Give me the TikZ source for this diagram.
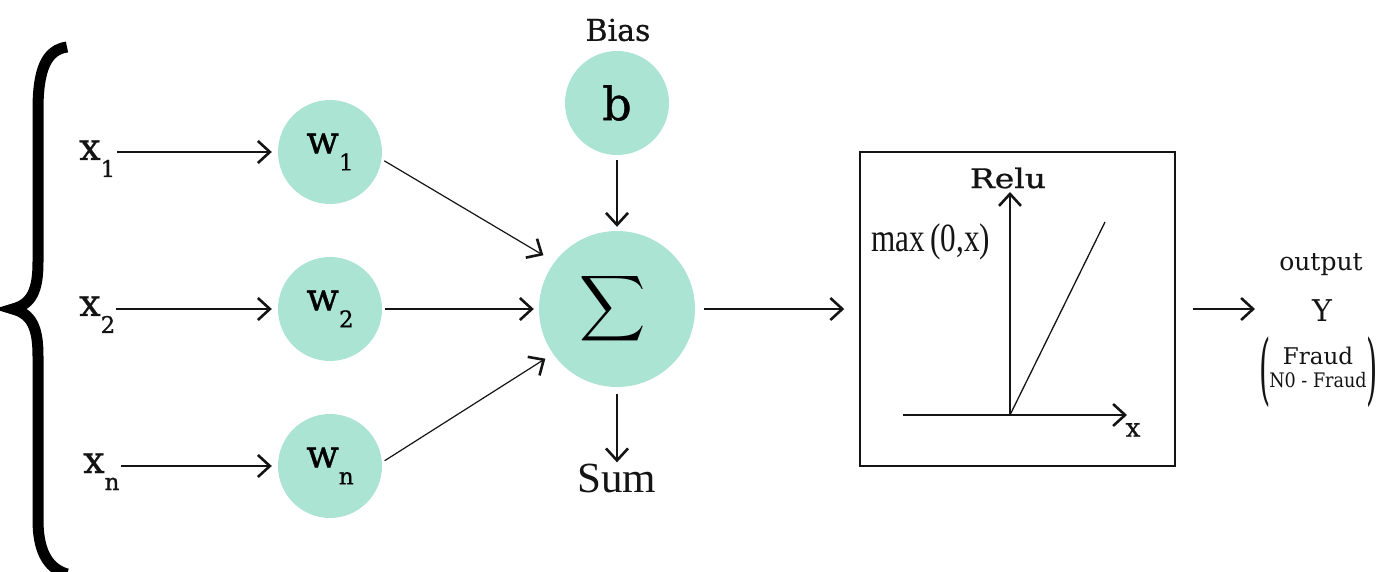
\documentclass[tikz,border=0pt]{standalone}
\usepackage{graphicx}
\usepackage{fontspec}
\setmainfont{DejaVu Serif}
\newfontfamily\semib[FakeBold=0.8]{DejaVu Serif}
\newfontfamily\timesfont{Liberation Serif}
\usetikzlibrary{arrows.meta}
\definecolor{mint}{RGB}{172,228,212}
\definecolor{ink}{RGB}{20,20,20}
\tikzset{
  neuron/.style={circle, fill=mint, minimum size=104pt, inner sep=0pt},
  sumnode/.style={circle, fill=mint, minimum size=156pt, inner sep=0pt},
  lbl/.style={inner sep=0pt, text=ink},
  conn/.style={draw=ink, line width=1.2pt,
    -{Straight Barb[length=12pt,width=22pt,line width=2.6pt]}},
  axis/.style={draw=ink, line width=1.6pt,
    -{Straight Barb[length=12pt,width=22pt,line width=2.6pt]}},
}
\newcommand{\bigf}{\fontsize{38}{42}\semib}
\newcommand{\subf}{\fontsize{23}{26}\semib}
\newcommand{\idx}[1]{\raisebox{-17pt}{\subf #1}}
\begin{document}
\begin{tikzpicture}[x=1pt,y=-1pt]
\useasboundingbox (0,0) rectangle (1393,572);

% curly brace grouping the inputs
\draw[black, line width=11pt, line cap=butt, line join=miter]
  (67,47) .. controls (46,50) and (38,70) .. (38,110) -- (38,262)
  .. controls (38,290) and (32,304) .. (13,309)
  .. controls (32,314) and (38,328) .. (38,356) -- (38,520)
  .. controls (38,548) and (46,568) .. (67,574);

% inputs
\node[lbl, anchor=base west, font=\bigf] (x1) at (79,160) {x\idx{1}};
\node[lbl, anchor=base west, font=\bigf] (x2) at (79,316) {x\idx{2}};
\node[lbl, anchor=base west, font=\bigf] (xn) at (83,473) {x\idx{n}};

% weights
\node[neuron, font=\bigf] (w1) at (330,152) {w\idx{1}};
\node[neuron, font=\bigf] (w2) at (330,309) {w\idx{2}};
\node[neuron, font=\bigf] (wn) at (330,466) {w\idx{n}};

% bias and summation
\node[lbl, font=\fontsize{30}{33}\semib] (bias) at (618,30) {Bias};
\node[neuron, font=\fontsize{46}{50}\semib] (b) at (617,103) {b};
\node[sumnode] (S) at (617,309) {\kern-8pt\scalebox{4.6}{$\displaystyle\sum$}};
\node[lbl, font=\fontsize{43}{46}\timesfont] (sum) at (617,478) {Sum};

% activation box
\node[draw=ink, line width=1.5pt, minimum width=315pt, minimum height=314pt,
      inner sep=0pt] (relu) at (1017.5,309) {};
\coordinate (o) at (1010,415);
\coordinate (ytop) at (1010,192);
\coordinate (xl) at (903,415);
\coordinate (xr) at (1127,415);
\coordinate (ramp) at (1105,222);
\draw[axis] (o) -- (ytop);
\draw[axis] (xl) -- (xr);
\draw[ink, line width=1.3pt] (o) -- (ramp);
\node[lbl, font=\fontsize{27}{30}\semib, xscale=1.22] (relut) at (1008,178) {Relu};
\node[lbl, font=\fontsize{26}{28}\semib] (xax) at (1133,430) {x};
\node[lbl, font=\fontsize{40}{44}\timesfont, xscale=0.78] (maxt) at (931,242) {max\,(0,x)};

% output
\coordinate (tip) at (1255,309);
\node[lbl, font=\fontsize{25}{28}\selectfont] (out) at (1321,265) {output};
\node[lbl, font=\fontsize{30}{32}\selectfont] (Y) at (1322,311) {Y};
\node[lbl, font=\fontsize{23}{26}\selectfont] (fr) at (1318,356) {Fraud};
\node[lbl, font=\fontsize{20}{22}\selectfont, xscale=0.88] (nofr) at (1318,380) {N0 - Fraud};
\node[lbl, font=\fontsize{36}{40}\selectfont, yscale=2.15, xscale=0.8] (lp) at (1265,372) {(};
\node[lbl, font=\fontsize{36}{40}\selectfont, yscale=2.15, xscale=0.8] (rp) at (1372,372) {)};

% connectors
\draw[conn, shorten <=2pt, shorten >=6pt] (x1.east |- w1.west) -- (w1.west);
\draw[conn, shorten <=1pt, shorten >=6pt] (x2.east |- w2.west) -- (w2.west);
\draw[conn, shorten <=1pt, shorten >=6pt] (xn.east |- wn.west) -- (wn.west);
\draw[conn, shorten <=3pt, shorten >=13pt] (w1.-8) -- (S.143);
\draw[conn, shorten <=3pt, shorten >=5pt] (w2.east) -- (S.west);
\draw[conn, shorten <=3pt, shorten >=9pt] (wn.4) -- (S.-145);
\draw[conn, shorten <=5pt, shorten >=4pt] (b.south) -- (S.north);
\draw[conn, shorten <=7pt, shorten >=1pt] (S.south) -- (sum.north);
\draw[conn, shorten <=9pt, shorten >=15pt] (S.east) -- (relu.west);
\draw[conn, shorten <=17pt] (relu.east) -- (tip);
\end{tikzpicture}
\end{document}
